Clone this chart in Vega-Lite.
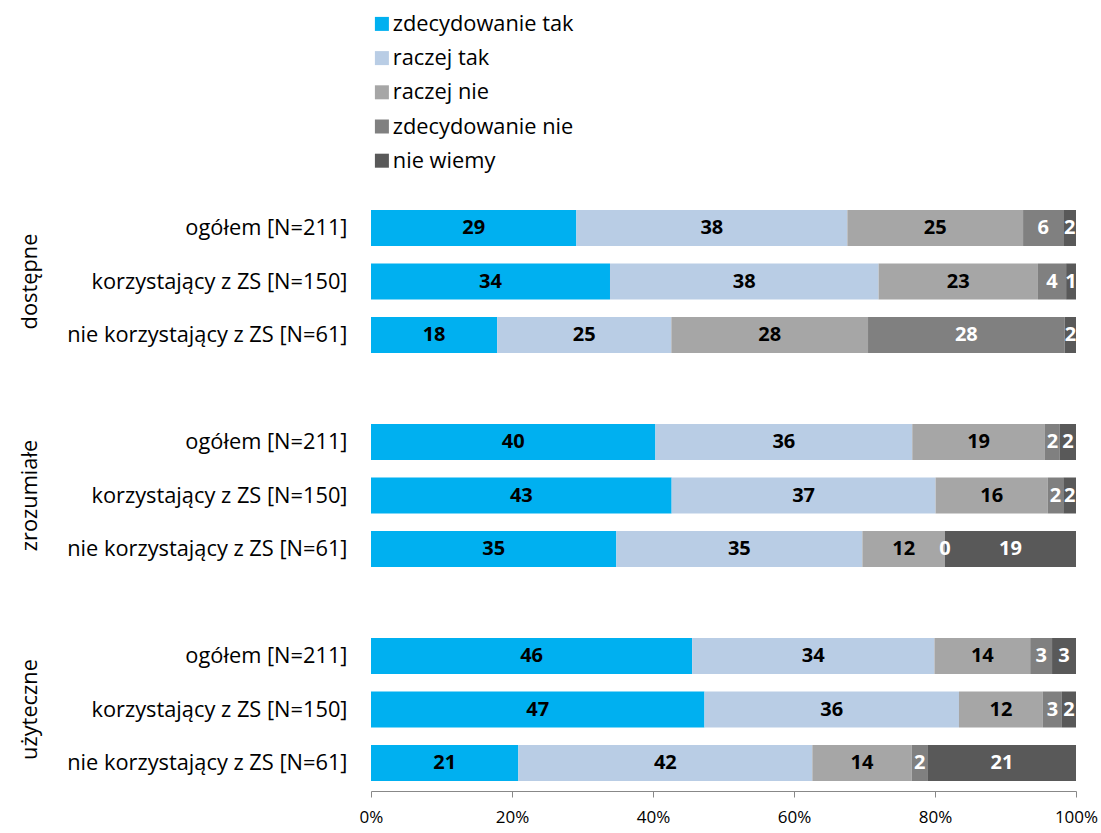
{
  "$schema": "https://vega.github.io/schema/vega-lite/v6.json",
  "padding": {"left": 19, "top": 13, "right": 20, "bottom": 1},
  "config": {"view": {"stroke": null}, "font": "Open Sans"},
  "data": {"values": [
    {"group": "dostępne", "cat": "ogółem [N=211]", "resp": "zdecydowanie tak", "order": 1, "v": 29.1},
    {"group": "dostępne", "cat": "ogółem [N=211]", "resp": "raczej tak", "order": 2, "v": 38.4},
    {"group": "dostępne", "cat": "ogółem [N=211]", "resp": "raczej nie", "order": 3, "v": 24.9},
    {"group": "dostępne", "cat": "ogółem [N=211]", "resp": "zdecydowanie nie", "order": 4, "v": 5.7},
    {"group": "dostępne", "cat": "ogółem [N=211]", "resp": "nie wiemy", "order": 5, "v": 1.8},
    {"group": "dostępne", "cat": "korzystający z ZS [N=150]", "resp": "zdecydowanie tak", "order": 1, "v": 33.9},
    {"group": "dostępne", "cat": "korzystający z ZS [N=150]", "resp": "raczej tak", "order": 2, "v": 38.1},
    {"group": "dostępne", "cat": "korzystający z ZS [N=150]", "resp": "raczej nie", "order": 3, "v": 22.6},
    {"group": "dostępne", "cat": "korzystający z ZS [N=150]", "resp": "zdecydowanie nie", "order": 4, "v": 4.0},
    {"group": "dostępne", "cat": "korzystający z ZS [N=150]", "resp": "nie wiemy", "order": 5, "v": 1.4},
    {"group": "dostępne", "cat": "nie korzystający z ZS [N=61]", "resp": "zdecydowanie tak", "order": 1, "v": 17.9},
    {"group": "dostępne", "cat": "nie korzystający z ZS [N=61]", "resp": "raczej tak", "order": 2, "v": 24.7},
    {"group": "dostępne", "cat": "nie korzystający z ZS [N=61]", "resp": "raczej nie", "order": 3, "v": 27.9},
    {"group": "dostępne", "cat": "nie korzystający z ZS [N=61]", "resp": "zdecydowanie nie", "order": 4, "v": 27.9},
    {"group": "dostępne", "cat": "nie korzystający z ZS [N=61]", "resp": "nie wiemy", "order": 5, "v": 1.6},
    {"group": "zrozumiałe", "cat": "ogółem [N=211]", "resp": "zdecydowanie tak", "order": 1, "v": 40.3},
    {"group": "zrozumiałe", "cat": "ogółem [N=211]", "resp": "raczej tak", "order": 2, "v": 36.4},
    {"group": "zrozumiałe", "cat": "ogółem [N=211]", "resp": "raczej nie", "order": 3, "v": 18.8},
    {"group": "zrozumiałe", "cat": "ogółem [N=211]", "resp": "zdecydowanie nie", "order": 4, "v": 2.1},
    {"group": "zrozumiałe", "cat": "ogółem [N=211]", "resp": "nie wiemy", "order": 5, "v": 2.3},
    {"group": "zrozumiałe", "cat": "korzystający z ZS [N=150]", "resp": "zdecydowanie tak", "order": 1, "v": 42.6},
    {"group": "zrozumiałe", "cat": "korzystający z ZS [N=150]", "resp": "raczej tak", "order": 2, "v": 37.4},
    {"group": "zrozumiałe", "cat": "korzystający z ZS [N=150]", "resp": "raczej nie", "order": 3, "v": 15.9},
    {"group": "zrozumiałe", "cat": "korzystający z ZS [N=150]", "resp": "zdecydowanie nie", "order": 4, "v": 2.2},
    {"group": "zrozumiałe", "cat": "korzystający z ZS [N=150]", "resp": "nie wiemy", "order": 5, "v": 1.8},
    {"group": "zrozumiałe", "cat": "nie korzystający z ZS [N=61]", "resp": "zdecydowanie tak", "order": 1, "v": 34.8},
    {"group": "zrozumiałe", "cat": "nie korzystający z ZS [N=61]", "resp": "raczej tak", "order": 2, "v": 34.9},
    {"group": "zrozumiałe", "cat": "nie korzystający z ZS [N=61]", "resp": "raczej nie", "order": 3, "v": 11.7},
    {"group": "zrozumiałe", "cat": "nie korzystający z ZS [N=61]", "resp": "zdecydowanie nie", "order": 4, "v": 0},
    {"group": "zrozumiałe", "cat": "nie korzystający z ZS [N=61]", "resp": "nie wiemy", "order": 5, "v": 18.6},
    {"group": "użyteczne", "cat": "ogółem [N=211]", "resp": "zdecydowanie tak", "order": 1, "v": 45.6},
    {"group": "użyteczne", "cat": "ogółem [N=211]", "resp": "raczej tak", "order": 2, "v": 34.4},
    {"group": "użyteczne", "cat": "ogółem [N=211]", "resp": "raczej nie", "order": 3, "v": 13.6},
    {"group": "użyteczne", "cat": "ogółem [N=211]", "resp": "zdecydowanie nie", "order": 4, "v": 3.1},
    {"group": "użyteczne", "cat": "ogółem [N=211]", "resp": "nie wiemy", "order": 5, "v": 3.4},
    {"group": "użyteczne", "cat": "korzystający z ZS [N=150]", "resp": "zdecydowanie tak", "order": 1, "v": 47.3},
    {"group": "użyteczne", "cat": "korzystający z ZS [N=150]", "resp": "raczej tak", "order": 2, "v": 36.1},
    {"group": "użyteczne", "cat": "korzystający z ZS [N=150]", "resp": "raczej nie", "order": 3, "v": 11.9},
    {"group": "użyteczne", "cat": "korzystający z ZS [N=150]", "resp": "zdecydowanie nie", "order": 4, "v": 2.7},
    {"group": "użyteczne", "cat": "korzystający z ZS [N=150]", "resp": "nie wiemy", "order": 5, "v": 2.0},
    {"group": "użyteczne", "cat": "nie korzystający z ZS [N=61]", "resp": "zdecydowanie tak", "order": 1, "v": 20.9},
    {"group": "użyteczne", "cat": "nie korzystający z ZS [N=61]", "resp": "raczej tak", "order": 2, "v": 41.7},
    {"group": "użyteczne", "cat": "nie korzystający z ZS [N=61]", "resp": "raczej nie", "order": 3, "v": 14.1},
    {"group": "użyteczne", "cat": "nie korzystający z ZS [N=61]", "resp": "zdecydowanie nie", "order": 4, "v": 2.3},
    {"group": "użyteczne", "cat": "nie korzystający z ZS [N=61]", "resp": "nie wiemy", "order": 5, "v": 21.0}
  ]},
  "transform": [
    {"stack": "v", "groupby": ["group", "cat"], "sort": [{"field": "order"}], "offset": "normalize", "as": ["x0", "x1"]},
    {"calculate": "(datum.x0 + datum.x1) / 2", "as": "xm"}
  ],
  "facet": {
    "row": {
      "field": "group", "title": null,
      "sort": ["dostępne", "zrozumiałe", "użyteczne"],
      "header": {"labelAngle": -90, "labelOrient": "left", "labelFontSize": 21.8, "labelFont": "Open Sans", "labelColor": "black", "labelPadding": 15}
    }
  },
  "spacing": 51,
  "spec": {
    "width": 705,
    "height": 163,
    "encoding": {
      "y": {
        "field": "cat", "type": "nominal", "title": null,
        "sort": ["ogółem [N=211]", "korzystający z ZS [N=150]", "nie korzystający z ZS [N=61]"],
        "scale": {"paddingInner": 0.327, "paddingOuter": 0.187},
        "axis": {"ticks": false, "tickSize": 0, "domain": false, "labelPadding": 24, "labelLimit": 0, "labelFontSize": 21.8, "labelColor": "black", "labelFont": "Open Sans"}
      }
    },
    "layer": [
      {
        "mark": {"type": "bar"},
        "encoding": {
          "x": {
            "field": "x0", "type": "quantitative", "title": null,
            "scale": {"domain": [0, 1], "nice": false},
            "axis": {"values": [0, 0.2, 0.4, 0.6, 0.8, 1], "format": ".0%", "grid": false, "labelFlush": false, "domainColor": "#888888", "tickColor": "#888888", "tickSize": 6, "labelFontSize": 17, "labelPadding": 12, "labelColor": "black", "labelFont": "Open Sans"}
          },
          "x2": {"field": "x1"},
          "color": {
            "field": "resp", "type": "nominal",
            "scale": {"domain": ["zdecydowanie tak", "raczej tak", "raczej nie", "zdecydowanie nie", "nie wiemy"], "range": ["#00B0F0", "#B9CDE5", "#A6A6A6", "#808080", "#595959"]},
            "legend": {"title": null, "orient": "top", "direction": "vertical", "symbolType": "square", "symbolSize": 196, "symbolStrokeWidth": 0, "labelFontSize": 21.8, "labelFont": "Open Sans", "labelColor": "black", "labelLimit": 0, "rowPadding": 11.2, "labelOffset": 0, "offset": 27}
          }
        }
      },
      {
        "mark": {"type": "text", "fontWeight": "bold", "fontSize": 20, "font": "Open Sans"},
        "encoding": {
          "x": {"field": "xm", "type": "quantitative"},
          "text": {"field": "v", "type": "quantitative", "format": ".0f"},
          "color": {"condition": {"test": "datum.order >= 4", "value": "white"}, "value": "black"}
        }
      }
    ]
  }
}
